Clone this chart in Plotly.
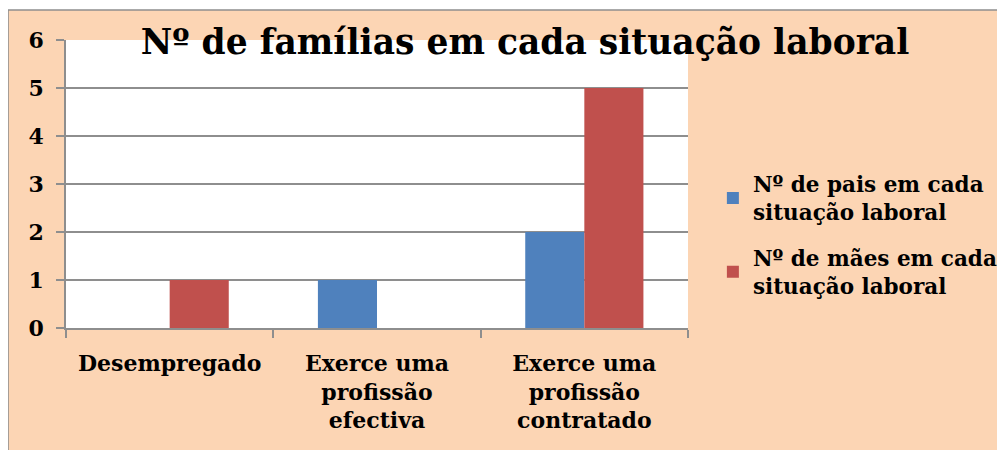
import plotly.graph_objects as go

categories = [
    'Desempregado',
    'Exerce uma<br>profissão<br>efectiva',
    'Exerce uma<br>profissão<br>contratado',
]
pais = [0, 1, 2]
maes = [1, 0, 5]
series_names = [
    'Nº de pais em cada<br>situação laboral',
    'Nº de mães em cada<br>situação laboral',
]
y_ticks = [0, 1, 2, 3, 4, 5, 6]

FONT = 'DejaVu Serif'
PEACH = '#FCD5B4'
GRID = '#8e8e8e'


def bold(text):
    return '<b>' + text.replace('<br>', '</b><br><b>') + '</b>'


def build_figure():
    figure = go.Figure()
    figure.add_trace(go.Bar(
        x=categories, y=pais, name=bold(series_names[0]),
        marker={'color': '#4F81BD', 'line': {'width': 0}},
        legendgroup='pais',
    ))
    figure.add_trace(go.Bar(
        x=categories, y=maes, name=bold(series_names[1]),
        marker={'color': '#C0504D', 'line': {'width': 0}},
        legendgroup='maes',
    ))

    # peach chart area with grey border, plot area in white on top
    figure.add_shape(
        type='rect', xref='paper', yref='paper', layer='below',
        x0=-0.0932, x1=1.7, y0=-0.6, y1=1.104,
        fillcolor=PEACH, line={'color': GRID, 'width': 1.5},
    )
    figure.add_shape(
        type='rect', xref='paper', yref='paper', layer='below',
        x0=0, x1=1, y0=0, y1=1,
        fillcolor='white', line={'width': 0},
    )

    figure.update_layout(
        width=997,
        height=442,
        margin={'l': 58, 'r': 317, 't': 32, 'b': 122, 'autoexpand': False},
        paper_bgcolor='white',
        plot_bgcolor='white',
        font={'family': FONT, 'size': 22, 'color': 'black'},
        title={
            'text': '<b>Nº de famílias em cada situação laboral</b>',
            'font': {'family': FONT, 'size': 34.5, 'color': 'black'},
            'x': 0.5186, 'xanchor': 'center',
            'y': 0.924, 'yanchor': 'middle',
            'xref': 'container', 'yref': 'container',
        },
        barmode='group',
        bargap=0.43,
        bargroupgap=0,
        showlegend=True,
        legend={
            'x': 1.04, 'xanchor': 'left',
            'y': 0.323, 'yanchor': 'middle',
            'traceorder': 'grouped',
            'tracegroupgap': 15,
            'bgcolor': 'rgba(0,0,0,0)',
            'font': {'family': FONT, 'size': 21.5, 'color': 'black'},
        },
        xaxis={
            'type': 'category',
            'tickvals': categories,
            'ticktext': [bold(c) for c in categories],
            'showline': True, 'linecolor': GRID, 'linewidth': 1.5,
            'ticks': 'outside', 'tickson': 'boundaries',
            'ticklen': 8, 'tickcolor': GRID, 'tickwidth': 1.5,
            'showgrid': False,
            'ticklabelstandoff': 15,
        },
        yaxis={
            'range': [0, 6],
            'tickvals': y_ticks,
            'ticktext': [bold(str(v)) for v in y_ticks],
            'showline': True, 'linecolor': GRID, 'linewidth': 1.5,
            'ticks': 'outside', 'ticklen': 8, 'tickcolor': GRID, 'tickwidth': 1.5,
            'showgrid': True, 'gridcolor': GRID, 'gridwidth': 1.5,
            'zeroline': False,
            'ticklabelstandoff': 8,
        },
    )
    return figure


fig = build_figure()
fig.write_html("out.html")
